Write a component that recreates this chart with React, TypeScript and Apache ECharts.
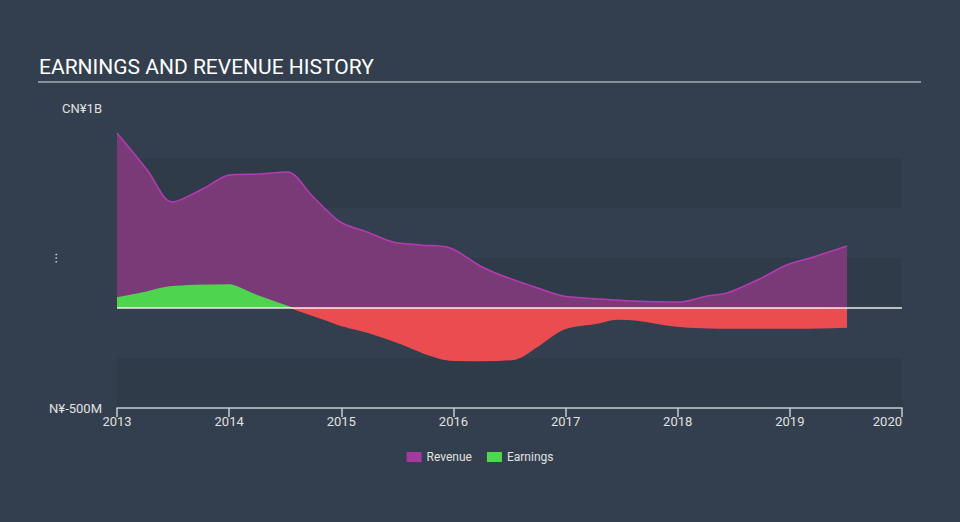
import React, { useEffect, useRef } from "react";
import * as echarts from "echarts";

const yearTicks = [2013, 2014, 2015, 2016, 2017, 2018, 2019, 2020];

const revenueYears = [2013.0, 2013.27, 2013.49, 2013.78, 2014.0, 2014.28, 2014.52, 2014.75, 2014.99, 2015.23, 2015.46, 2015.7, 2015.97, 2016.24, 2016.42, 2016.75, 2016.98, 2017.31, 2017.6, 2018.02, 2018.26, 2018.44, 2018.73, 2018.97, 2019.21, 2019.51];
const revenueValues = [875, 690, 530, 600, 665, 670, 680, 555, 430, 380, 330, 315, 300, 210, 165, 100, 60, 45, 35, 30, 60, 75, 145, 215, 255, 310];

const earningsYears = [2013.0, 2013.23, 2013.47, 2014.01, 2014.07, 2014.21, 2014.56, 2014.87, 2014.99, 2015.26, 2015.52, 2015.79, 2015.97, 2016.24, 2016.55, 2016.75, 2016.98, 2017.28, 2017.46, 2017.64, 2017.99, 2018.49, 2019.09, 2019.51];
const earningsValues = [50, 75, 105, 115, 105, 70, 0, -60, -85, -125, -175, -235, -260, -262, -255, -190, -105, -75, -55, -60, -90, -100, -100, -95];

const yMin = -500;
const yMax = 1000;

export default function App() {
  const ref = useRef<HTMLDivElement>(null);
  useEffect(() => {
    if (!ref.current) return;
    const chart = echarts.init(ref.current, undefined, { renderer: "svg" });
    const rev = revenueYears.map((x, i) => [x, revenueValues[i]]);
    const earn = earningsYears.map((x, i) => [x, earningsValues[i]]);
    chart.setOption({
      animation: false,
      backgroundColor: "#333f4e",
      textStyle: { fontFamily: "Roboto, sans-serif" },
      grid: { left: 117, right: 58, top: 108, bottom: 114 },
      graphic: [
        {
          type: "text",
          left: 39,
          top: 56,
          style: { text: "EARNINGS AND REVENUE HISTORY", fill: "#ffffff", fontSize: 21, fontFamily: "Roboto, sans-serif" },
        },
        {
          type: "line",
          shape: { x1: 38, y1: 82, x2: 921, y2: 82 },
          style: { stroke: "#a4acb6", lineWidth: 1.5 },
        },
        {
          type: "text",
          x: 52,
          y: 258,
          rotation: Math.PI / 2,
          style: { text: "...", fill: "#e0e0e0", fontSize: 14, align: "center", verticalAlign: "middle", fontFamily: "Roboto, sans-serif" },
        },
      ],
      legend: {
        top: 446,
        left: "center",
        icon: "rect",
        itemWidth: 15,
        itemHeight: 10,
        itemGap: 15,
        textStyle: { color: "#e0e0e0", fontSize: 12 },
        data: [
          { name: "Revenue", itemStyle: { color: "#a23a9f" } },
          { name: "Earnings", itemStyle: { color: "#4ed84e" } },
        ],
      },
      visualMap: {
        show: false,
        type: "piecewise",
        seriesIndex: 1,
        dimension: 1,
        pieces: [
          { gt: 0, lte: 5000, color: "#4fd44f" },
          { gte: -5000, lte: 0, color: "#ea4c4f" },
        ],
      },
      xAxis: {
        type: "value",
        min: 2013,
        max: 2020,
        interval: 1,
        splitLine: { show: false },
        axisLine: { show: true, onZero: false, lineStyle: { color: "#c8ccd2", width: 1.5 } },
        axisTick: { show: true, length: 9, lineStyle: { color: "#c8ccd2", width: 1.5 } },
        axisLabel: {
          color: "#e0e0e0",
          fontSize: 13,
          margin: 7,
          alignMaxLabel: "right",
          formatter: (v: number) => (yearTicks.includes(v) ? String(v) : ""),
        },
      },
      yAxis: {
        type: "value",
        min: yMin,
        max: yMax,
        interval: 250,
        axisLine: { show: false },
        axisTick: { show: false },
        splitLine: { show: false },
        splitArea: { show: true, areaStyle: { color: ["rgba(25,35,47,0.13)", "rgba(0,0,0,0)"] } },
        axisLabel: {
          color: "#e0e0e0",
          fontSize: 13,
          margin: 15,
          formatter: (v: number) => (v === yMax ? "CN¥1B" : v === yMin ? "N¥-500M" : ""),
        },
      },
      series: [
        {
          name: "Revenue",
          type: "line",
          data: rev,
          smooth: 0.3,
          showSymbol: false,
          symbol: "none",
          color: "#a23a9f",
          lineStyle: { color: "#b43cb1", width: 1.5 },
          areaStyle: { color: "#7a3a77", opacity: 1 },
        },
        {
          name: "Earnings",
          type: "line",
          data: earn,
          smooth: 0.3,
          showSymbol: false,
          symbol: "none",
          color: "#4ed84e",
          lineStyle: { width: 1.5 },
          areaStyle: { opacity: 1 },
          markLine: {
            silent: true,
            symbol: "none",
            label: { show: false },
            lineStyle: { color: "#ffffff", width: 1.5, type: "solid", opacity: 0.9 },
            data: [{ yAxis: 0 }],
          },
        },
      ],
    });
    return () => chart.dispose();
  }, []);
  return <div ref={ref} style={{ position: "fixed", left: 0, top: 0, width: 960, height: 522 }} />;
}
